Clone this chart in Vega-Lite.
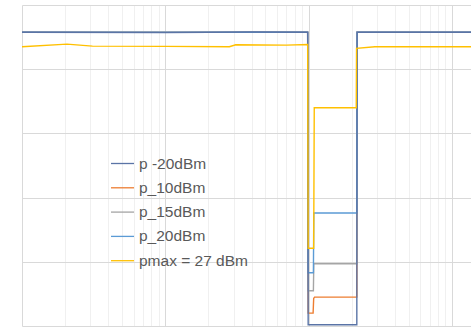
{
  "$schema": "https://vega.github.io/schema/vega-lite/v6.json",
  "width": 449,
  "height": 321,
  "autosize": {"type": "none"},
  "padding": {"left": 22, "top": 5, "right": 0, "bottom": 2},
  "background": "white",
  "config": {"view": {"stroke": null}},
  "data": {
    "values": [
      {"s": "p_10dBm", "x": 1, "y": 45.75},
      {"s": "p_10dBm", "x": 98.5, "y": 45.75},
      {"s": "p_10dBm", "x": 99.3, "y": 2.0},
      {"s": "p_10dBm", "x": 107.5, "y": 2.0},
      {"s": "p_10dBm", "x": 108.5, "y": 4.3},
      {"s": "p_10dBm", "x": 110, "y": 4.5},
      {"s": "p_10dBm", "x": 217, "y": 4.5},
      {"s": "p_10dBm", "x": 218, "y": 45.75},
      {"s": "p_10dBm", "x": 1359, "y": 45.75},

      {"s": "p_15dBm", "x": 1, "y": 45.75},
      {"s": "p_15dBm", "x": 98.5, "y": 45.75},
      {"s": "p_15dBm", "x": 99.3, "y": 5.5},
      {"s": "p_15dBm", "x": 108, "y": 5.5},
      {"s": "p_15dBm", "x": 108.7, "y": 9.7},
      {"s": "p_15dBm", "x": 217, "y": 9.7},
      {"s": "p_15dBm", "x": 218, "y": 45.75},
      {"s": "p_15dBm", "x": 1359, "y": 45.75},

      {"s": "p_20dBm", "x": 1, "y": 45.75},
      {"s": "p_20dBm", "x": 98.5, "y": 45.75},
      {"s": "p_20dBm", "x": 99.3, "y": 8.3},
      {"s": "p_20dBm", "x": 108, "y": 8.3},
      {"s": "p_20dBm", "x": 108.7, "y": 17.6},
      {"s": "p_20dBm", "x": 217, "y": 17.6},
      {"s": "p_20dBm", "x": 218, "y": 45.75},
      {"s": "p_20dBm", "x": 1359, "y": 45.75},

      {"s": "p -20dBm", "x": 1, "y": 45.75},
      {"s": "p -20dBm", "x": 10, "y": 45.7},
      {"s": "p -20dBm", "x": 40, "y": 45.8},
      {"s": "p -20dBm", "x": 98.5, "y": 45.75},
      {"s": "p -20dBm", "x": 99.3, "y": 0.2},
      {"s": "p -20dBm", "x": 217, "y": 0.2},
      {"s": "p -20dBm", "x": 218, "y": 45.75},
      {"s": "p -20dBm", "x": 1359, "y": 45.75},

      {"s": "pmax = 27 dBm", "x": 1, "y": 43.5},
      {"s": "pmax = 27 dBm", "x": 2.06, "y": 43.9},
      {"s": "pmax = 27 dBm", "x": 3.1, "y": 43.6},
      {"s": "pmax = 27 dBm", "x": 10, "y": 43.55},
      {"s": "pmax = 27 dBm", "x": 28, "y": 43.5},
      {"s": "pmax = 27 dBm", "x": 31, "y": 43.8},
      {"s": "pmax = 27 dBm", "x": 70, "y": 43.75},
      {"s": "pmax = 27 dBm", "x": 98.5, "y": 43.85},
      {"s": "pmax = 27 dBm", "x": 99.3, "y": 12.1},
      {"s": "pmax = 27 dBm", "x": 108.5, "y": 12.1},
      {"s": "pmax = 27 dBm", "x": 109.5, "y": 34.0},
      {"s": "pmax = 27 dBm", "x": 215, "y": 34.0},
      {"s": "pmax = 27 dBm", "x": 216, "y": 43.25},
      {"s": "pmax = 27 dBm", "x": 290, "y": 43.5},
      {"s": "pmax = 27 dBm", "x": 1359, "y": 43.5}
    ]
  },
  "mark": {"type": "line", "strokeWidth": 1.4, "clip": true},
  "encoding": {
    "x": {
      "field": "x",
      "type": "quantitative",
      "scale": {"type": "log", "domain": [1, 1359], "nice": false},
      "axis": {
        "title": null,
        "labels": false,
        "ticks": false,
        "domain": false,
        "grid": true,
        "values": [1, 2, 3, 4, 5, 6, 7, 8, 9, 10, 20, 30, 40, 50, 60, 70, 80, 90, 100, 200, 300, 400, 500, 600, 700, 800, 900, 1000],
        "gridColor": {"condition": {"test": "indexof([1,10,100,1000], datum.value) >= 0", "value": "#d9d9d9"}, "value": "#f0f0f0"},
        "gridWidth": 1
      }
    },
    "y": {
      "field": "y",
      "type": "quantitative",
      "scale": {"domain": [0, 50], "nice": false, "zero": false},
      "axis": {
        "title": null,
        "labels": false,
        "ticks": false,
        "domain": false,
        "grid": true,
        "values": [0, 10, 20, 30, 40, 50],
        "gridColor": "#d9d9d9",
        "gridWidth": 1
      }
    },
    "color": {
      "field": "s",
      "type": "nominal",
      "scale": {
        "domain": ["p -20dBm", "p_10dBm", "p_15dBm", "p_20dBm", "pmax = 27 dBm"],
        "range": ["#5A74A6", "#ED7D31", "#A5A5A5", "#5B9BD5", "#FFC000"]
      },
      "legend": {
        "title": null,
        "orient": "none",
        "legendX": 88,
        "legendY": 146,
        "padding": 0,
        "symbolType": "stroke",
        "symbolSize": 529,
        "symbolStrokeWidth": 1.3,
        "labelFont": "Liberation Sans",
        "labelFontSize": 15.5,
        "labelColor": "#595959",
        "labelOffset": 4,
        "rowPadding": 3.3
      }
    }
  }
}
